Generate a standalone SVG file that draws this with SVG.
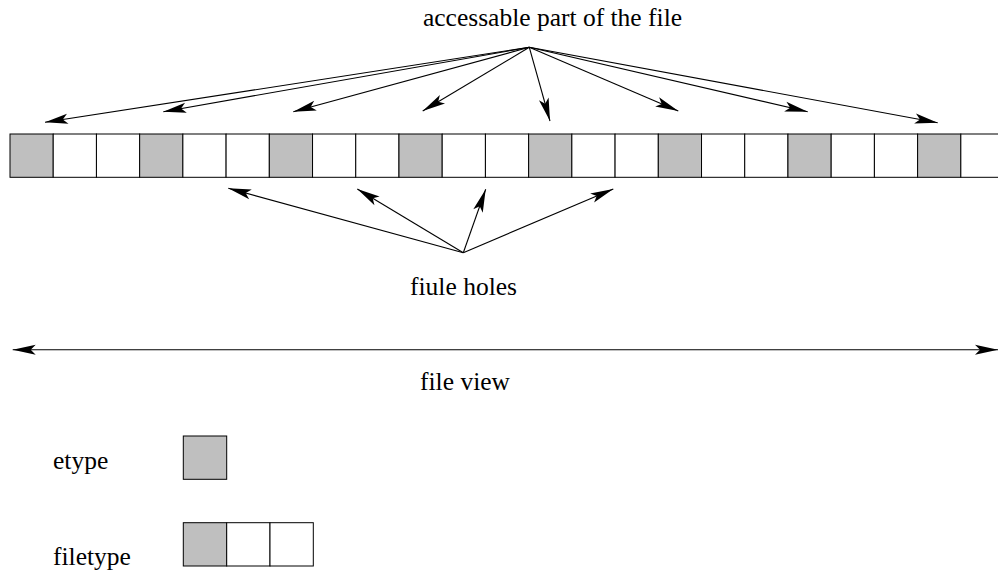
<svg xmlns="http://www.w3.org/2000/svg" width="998" height="574" viewBox="0 0 998 574">
<style>
.cell{stroke:#000;stroke-width:1;fill:#fff}
.g{fill:#bfbfbf}
.ln{stroke:#000;stroke-width:1.1;fill:none}
.t{font-family:"Liberation Serif","Times New Roman",Times,serif;font-size:25.5px;fill:#000}
</style>
<defs>
<marker id="ah" markerUnits="userSpaceOnUse" viewBox="-1 -7 26 14" refX="23" refY="0" markerWidth="26" markerHeight="14" orient="auto-start-reverse">
<path d="M0,-5 L23,0 L0,5 L5,0 Z" fill="#000"/>
</marker>
</defs>
<rect width="998" height="574" fill="#fff"/>
<g id="strip">
<rect class="cell g" x="10" y="134" width="43.22" height="43.3"/>
<rect class="cell" x="53.22" y="134" width="43.22" height="43.3"/>
<rect class="cell" x="96.44" y="134" width="43.22" height="43.3"/>
<rect class="cell g" x="139.66" y="134" width="43.22" height="43.3"/>
<rect class="cell" x="182.88" y="134" width="43.22" height="43.3"/>
<rect class="cell" x="226.1" y="134" width="43.22" height="43.3"/>
<rect class="cell g" x="269.32" y="134" width="43.22" height="43.3"/>
<rect class="cell" x="312.54" y="134" width="43.22" height="43.3"/>
<rect class="cell" x="355.76" y="134" width="43.22" height="43.3"/>
<rect class="cell g" x="398.98" y="134" width="43.22" height="43.3"/>
<rect class="cell" x="442.2" y="134" width="43.22" height="43.3"/>
<rect class="cell" x="485.42" y="134" width="43.22" height="43.3"/>
<rect class="cell g" x="528.64" y="134" width="43.22" height="43.3"/>
<rect class="cell" x="571.86" y="134" width="43.22" height="43.3"/>
<rect class="cell" x="615.08" y="134" width="43.22" height="43.3"/>
<rect class="cell g" x="658.3" y="134" width="43.22" height="43.3"/>
<rect class="cell" x="701.52" y="134" width="43.22" height="43.3"/>
<rect class="cell" x="744.74" y="134" width="43.22" height="43.3"/>
<rect class="cell g" x="787.96" y="134" width="43.22" height="43.3"/>
<rect class="cell" x="831.18" y="134" width="43.22" height="43.3"/>
<rect class="cell" x="874.4" y="134" width="43.22" height="43.3"/>
<rect class="cell g" x="917.62" y="134" width="43.22" height="43.3"/>
<rect class="cell" x="960.84" y="134" width="43.22" height="43.3"/>
</g>
<g id="labels">
<text class="t" font-family="Liberation Serif, serif" x="552.5" y="26" text-anchor="middle">accessable part of the file</text>
<text class="t" font-family="Liberation Serif, serif" x="463.5" y="295" text-anchor="middle">fiule holes</text>
<text class="t" font-family="Liberation Serif, serif" x="465" y="390" text-anchor="middle">file view</text>
<text class="t" font-family="Liberation Serif, serif" x="53" y="469">etype</text>
<text class="t" font-family="Liberation Serif, serif" x="53" y="565">filetype</text>
</g>
<g id="etype">
<rect class="cell g" x="183.3" y="436" width="43.4" height="43.3"/>
</g>
<g id="filetype">
<rect class="cell g" x="183.3" y="522.7" width="43.4" height="43.3"/>
<rect class="cell" x="226.7" y="522.7" width="43.3" height="43.3"/>
<rect class="cell" x="270" y="522.7" width="43.3" height="43.3"/>
</g>
<g id="connectors" class="ln" marker-end="url(#ah)">
<line x1="529.3" y1="47.3" x2="45" y2="122.3"/>
<line x1="529.3" y1="47.3" x2="163.3" y2="111.7"/>
<line x1="529.3" y1="47.3" x2="293.3" y2="111.7"/>
<line x1="529.3" y1="47.3" x2="422.7" y2="111"/>
<line x1="529.3" y1="47.3" x2="550" y2="121"/>
<line x1="529.3" y1="47.3" x2="678.3" y2="111"/>
<line x1="529.3" y1="47.3" x2="807.7" y2="111.7"/>
<line x1="529.3" y1="47.3" x2="937.7" y2="122.7"/>
<line x1="463.3" y1="252.7" x2="228.3" y2="188.3"/>
<line x1="463.3" y1="252.7" x2="357.3" y2="189"/>
<line x1="463.3" y1="252.7" x2="485.7" y2="189.3"/>
<line x1="463.3" y1="252.7" x2="613.3" y2="189"/>
<line x1="12.7" y1="349.7" x2="998" y2="349.7" marker-start="url(#ah)"/>
</g>
</svg>
